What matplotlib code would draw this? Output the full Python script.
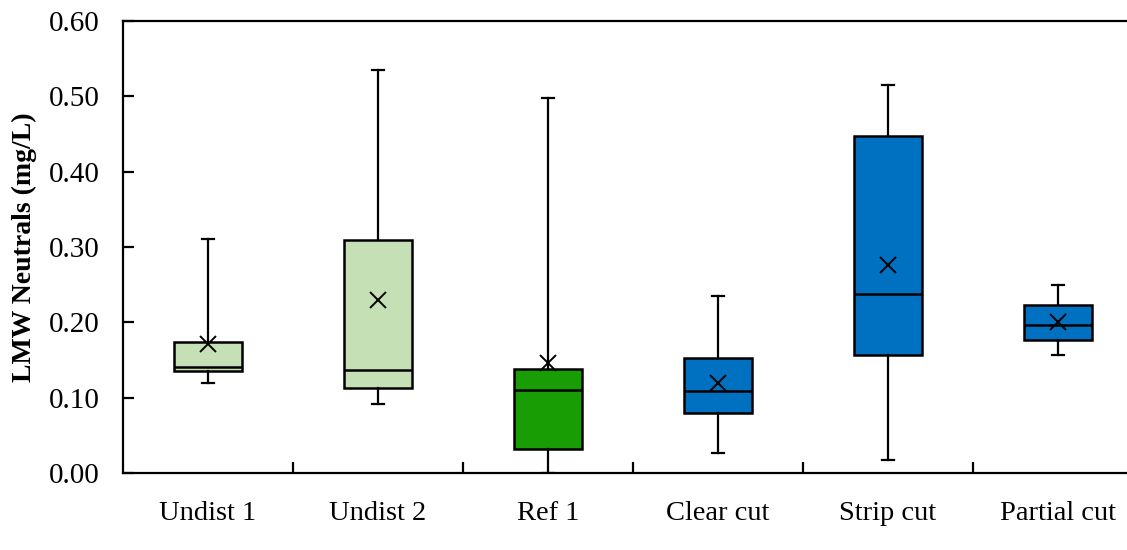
import matplotlib
matplotlib.use("Agg")
import matplotlib.pyplot as plt
from matplotlib.ticker import MultipleLocator, FixedLocator

categories = ["Undist 1", "Undist 2", "Ref 1", "Clear cut", "Strip cut", "Partial cut"]
whisker_low = [0.120, 0.092, 0.000, 0.026, 0.017, 0.156]
q1 = [0.136, 0.113, 0.032, 0.080, 0.156, 0.177]
median = [0.141, 0.137, 0.110, 0.109, 0.238, 0.196]
q3 = [0.1735, 0.309, 0.138, 0.153, 0.447, 0.223]
whisker_high = [0.311, 0.535, 0.498, 0.235, 0.515, 0.250]
means = [0.171, 0.230, 0.146, 0.119, 0.276, 0.200]
colors = ["#C5E0B4", "#C5E0B4", "#189E04", "#0070C0", "#0070C0", "#0070C0"]

plt.rcParams['font.family'] = ['Liberation Serif', 'DejaVu Serif']

fig = plt.figure(figsize=(11.27, 5.5), dpi=100)
ax = fig.add_axes([123/1127, 77/550, 1020/1127, 452/550])

stats = []
for i, c in enumerate(categories):
    stats.append(dict(label=c, whislo=whisker_low[i], q1=q1[i], med=median[i],
                      q3=q3[i], whishi=whisker_high[i], mean=means[i], fliers=[]))

lw = 1.8
bp = ax.bxp(stats, positions=range(len(categories)), widths=0.4, capwidths=0.07,
            patch_artist=True, showmeans=True, showfliers=False,
            boxprops=dict(linewidth=lw, edgecolor='black'),
            medianprops=dict(color='black', linewidth=lw),
            whiskerprops=dict(color='black', linewidth=1.6),
            capprops=dict(color='black', linewidth=1.6),
            meanprops=dict(marker='x', markeredgecolor='black', markerfacecolor='black',
                           markersize=11, markeredgewidth=1.4))
for patch, col in zip(bp['boxes'], colors):
    patch.set_facecolor(col)
for m in bp['means']:
    m.set_zorder(5)

ax.set_xlim(-0.5, len(categories) - 0.5)
ax.set_ylim(0, 0.6)
ax.yaxis.set_major_locator(MultipleLocator(0.1))
ax.yaxis.set_major_formatter(plt.FuncFormatter(lambda v, p: f"{v:.2f}"))
ax.set_xticks(range(len(categories)))
ax.set_xticklabels(categories)
ax.xaxis.set_minor_locator(FixedLocator([i + 0.5 for i in range(len(categories) - 1)]))
ax.tick_params(axis='x', which='major', length=0, pad=20, labelsize=20.5)
ax.tick_params(axis='x', which='minor', direction='in', length=8, width=1.6)
ax.tick_params(axis='y', which='major', direction='in', length=8, width=1.6, labelsize=21, pad=17)
for s in ax.spines.values():
    s.set_linewidth(1.6)
ax.set_ylabel("LMW Neutrals (mg/L)", fontsize=20, fontweight='bold', labelpad=8)

fig.savefig("out.png", dpi=100)
